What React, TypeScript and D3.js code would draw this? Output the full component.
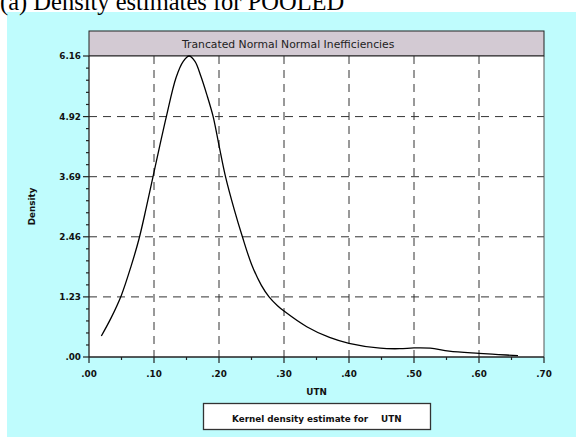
import React from "react";
import * as d3 from "d3";

const W = 576;
const H = 437;

const chartTitle = "(a) Density estimates for POOLED";
const panelTitle = "Trancated Normal Normal Inefficiencies";
const xAxisTitle = "UTN";
const yAxisTitle = "Density";
const legendLabel = "Kernel density estimate for";
const legendVar = "UTN";

const xTicks = [0, 0.1, 0.2, 0.3, 0.4, 0.5, 0.6, 0.7];
const xTickLabels = [".00", ".10", ".20", ".30", ".40", ".50", ".60", ".70"];
const yTicks = [0, 1.23, 2.46, 3.69, 4.92, 6.16];
const yTickLabels = [".00", "1.23", "2.46", "3.69", "4.92", "6.16"];

const utn = [
  0.019, 0.034, 0.0497, 0.065, 0.077, 0.088, 0.0985, 0.109, 0.119, 0.134, 0.145,
  0.154, 0.163, 0.172, 0.181, 0.191, 0.2, 0.21, 0.2236, 0.236, 0.25, 0.265, 0.277,
  0.29, 0.3, 0.335, 0.37, 0.4, 0.448, 0.478, 0.5, 0.525, 0.554, 0.6, 0.63, 0.66,
];
const density = [
  0.43, 0.8, 1.26, 1.87, 2.42, 3.05, 3.69, 4.33, 4.92, 5.72, 6.05,
  6.16, 6.05, 5.75, 5.38, 4.92, 4.33, 3.69, 3.01, 2.46, 1.9, 1.47, 1.23,
  1.05, 0.94, 0.62, 0.4, 0.28, 0.18, 0.17, 0.185, 0.18, 0.12, 0.075, 0.05, 0.027,
];

export default function App() {
  const left = 89, right = 544, top = 56, bottom = 357;
  const x = d3.scaleLinear().domain([0, 0.7]).range([left, right]);
  const y = d3.scaleLinear().domain([0, 6.16]).range([bottom, top]);

  const pts: [number, number][] = utn.map((u, i) => [u, density[i]]);
  const line = d3
    .line<[number, number]>()
    .x((d) => x(d[0]))
    .y((d) => y(d[1]))
    .curve(d3.curveCatmullRom.alpha(0.5));

  const xMinor: number[] = [];
  for (let i = 0; i < xTicks.length - 1; i++) xMinor.push((xTicks[i] + xTicks[i + 1]) / 2);
  const yMinor: number[] = [];
  for (let i = 0; i < yTicks.length - 1; i++) {
    for (let k = 1; k < 5; k++) yMinor.push(yTicks[i] + ((yTicks[i + 1] - yTicks[i]) * k) / 5);
  }

  const small = { fontFamily: "DejaVu Sans", fontWeight: 700, fontSize: 8.8, fill: "#111" } as const;
  const dash = "8,6";
  const grid = "#333";

  return (
    <div style={{ position: "absolute", left: 0, top: 0 }}>
      <svg width={W} height={H} style={{ display: "block" }}>
        <rect x={0} y={0} width={W} height={H} fill="#ffffff" />
        <rect x={7} y={12} width={W - 7} height={H - 12} fill="#bffcfd" />
        <text x={0} y={9.5} fontFamily="Liberation Serif" fontSize={24.5} fill="#000">
          {chartTitle}
        </text>

        {/* title band */}
        <rect x={left} y={31} width={right - left} height={top - 31} fill="#d3cad3" stroke="#222" strokeWidth={1} />
        <text x={182} y={47.5} fontFamily="DejaVu Sans" fontSize={10.8} fill="#222">
          {panelTitle}
        </text>

        {/* plot area */}
        <rect x={left} y={top} width={right - left} height={bottom - top} fill="#ffffff" />
        {xTicks.slice(1, -1).map((t) => (
          <line key={"gx" + t} x1={x(t)} x2={x(t)} y1={top} y2={bottom} stroke={grid} strokeWidth={1} strokeDasharray={dash} />
        ))}
        {yTicks.slice(1, -1).map((t) => (
          <line key={"gy" + t} x1={left} x2={right} y1={y(t)} y2={y(t)} stroke={grid} strokeWidth={1} strokeDasharray={dash} />
        ))}
        <line x1={right} x2={right} y1={top} y2={bottom} stroke="#555" strokeWidth={1} />
        <line x1={left} x2={right} y1={top} y2={top} stroke="#222" strokeWidth={1} />

        <path d={line(pts) || ""} fill="none" stroke="#000" strokeWidth={1.3} />

        {/* axes */}
        <line x1={left} x2={left} y1={top} y2={bottom} stroke="#222" strokeWidth={1.3} />
        <line x1={left} x2={right} y1={bottom} y2={bottom} stroke="#222" strokeWidth={1.3} />
        {yTicks.map((t, i) => (
          <g key={"yt" + t}>
            <line x1={left - 6} x2={left} y1={y(t)} y2={y(t)} stroke="#222" strokeWidth={1.2} />
            <text x={81} y={y(t) + 3.2} textAnchor="end" {...small}>
              {yTickLabels[i]}
            </text>
          </g>
        ))}
        {yMinor.map((t) => (
          <line key={"ym" + t} x1={left - 3} x2={left} y1={y(t)} y2={y(t)} stroke="#222" strokeWidth={1.2} />
        ))}
        {xTicks.map((t, i) => (
          <g key={"xt" + t}>
            <line x1={x(t)} x2={x(t)} y1={bottom} y2={bottom + 6} stroke="#222" strokeWidth={1.2} />
            <text x={x(t)} y={376.5} textAnchor="middle" {...small}>
              {xTickLabels[i]}
            </text>
          </g>
        ))}
        {xMinor.map((t) => (
          <line key={"xm" + t} x1={x(t)} x2={x(t)} y1={bottom} y2={bottom + 3} stroke="#222" strokeWidth={1.2} />
        ))}

        <text x={(left + right) / 2} y={394.5} textAnchor="middle" {...small}>
          {xAxisTitle}
        </text>
        <text transform={`translate(35,${(top + bottom) / 2}) rotate(-90)`} textAnchor="middle" {...small}>
          {yAxisTitle}
        </text>

        {/* legend */}
        <rect x={203.5} y={403.5} width={227} height={26} fill="#ffffff" stroke="#333" strokeWidth={1.3} />
        <text x={232} y={422} {...small}>
          {legendLabel}
        </text>
        <text x={381} y={422} {...small}>
          {legendVar}
        </text>
      </svg>
    </div>
  );
}
